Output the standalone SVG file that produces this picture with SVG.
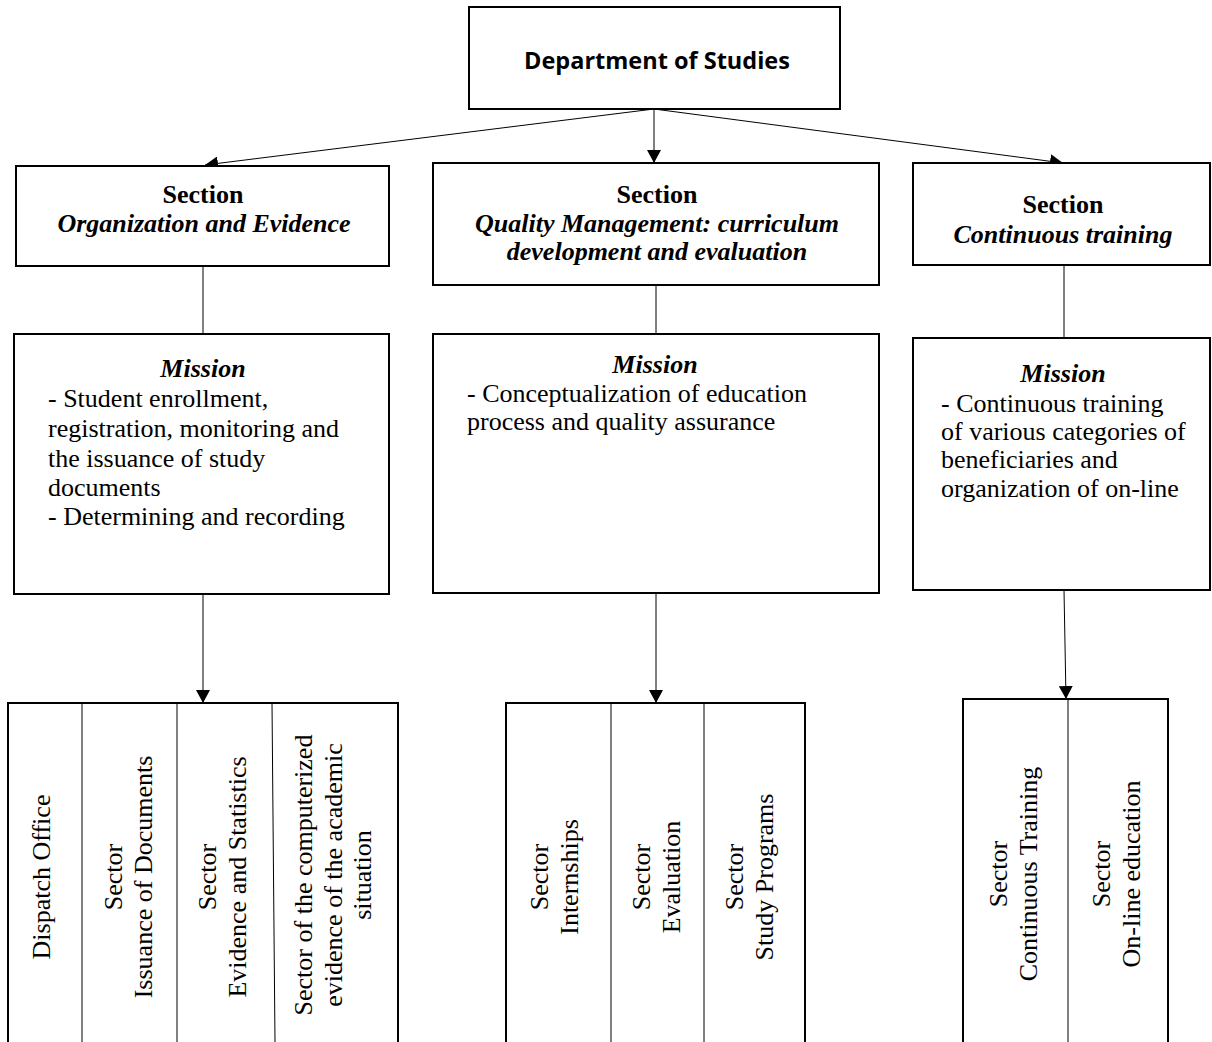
<svg xmlns="http://www.w3.org/2000/svg" width="1212" height="1042" viewBox="0 0 1212 1042">
<defs>
<marker id="ah" viewBox="0 0 13 14" refX="13" refY="7" markerWidth="13" markerHeight="14" markerUnits="userSpaceOnUse" orient="auto">
<path d="M0,0 L13,7 L0,14 Z" fill="#000"/>
</marker>
<style>
.box{fill:#fff;stroke:#000;stroke-width:2}
.div{stroke:#000;stroke-width:1;fill:none}
.con{stroke:#000;stroke-width:1;fill:none}
.arr{stroke:#000;stroke-width:1;fill:none;marker-end:url(#ah)}
.t{font-family:"Liberation Serif","Times New Roman",serif;font-size:26px;fill:#000}
.b{font-weight:bold}
.bi{font-weight:bold;font-style:italic}
.c{text-anchor:middle}
.head{font-family:"Open Sans","Liberation Sans",sans-serif;font-size:23.5px;font-weight:bold;fill:#000;text-anchor:middle}
</style>
</defs>
<rect width="1212" height="1042" fill="#fff"/>

<g id="connectors">
<line class="arr" x1="654" y1="109" x2="205" y2="165"/>
<line class="arr" x1="654" y1="109" x2="654" y2="163"/>
<line class="arr" x1="654" y1="109" x2="1063" y2="163"/>
<line class="con" x1="203" y1="266" x2="203" y2="334"/>
<line class="con" x1="656" y1="285" x2="656" y2="334"/>
<line class="con" x1="1064" y1="265" x2="1064" y2="338"/>
<line class="arr" x1="203" y1="594" x2="203" y2="703"/>
<line class="arr" x1="656" y1="593" x2="656" y2="703"/>
<line class="arr" x1="1064" y1="590" x2="1066" y2="699"/>
</g>

<g id="department">
<rect class="box" x="469" y="7" width="371" height="102"/>
<text class="head" x="657" y="69">Department of Studies</text>
</g>

<g id="section-organization">
<rect class="box" x="16" y="166" width="373" height="100"/>
<text class="t b c" x="203" y="203">Section</text>
<text class="t bi c" x="204" y="232">Organization and Evidence</text>
</g>

<g id="section-quality">
<rect class="box" x="433" y="163" width="446" height="122"/>
<text class="t b c" x="657" y="203">Section</text>
<text class="t bi c" x="657" y="232">Quality Management: curriculum</text>
<text class="t bi c" x="657" y="260">development and evaluation</text>
</g>

<g id="section-continuous">
<rect class="box" x="913" y="163" width="297" height="102"/>
<text class="t b c" x="1063" y="213">Section</text>
<text class="t bi c" x="1063" y="243">Continuous training</text>
</g>

<g id="mission-organization">
<rect class="box" x="14" y="334" width="375" height="260"/>
<text class="t bi c" x="203" y="377">Mission</text>
<text class="t" x="48" y="407">- Student enrollment,</text>
<text class="t" x="48" y="437">registration, monitoring and</text>
<text class="t" x="48" y="467">the issuance of study</text>
<text class="t" x="48" y="496">documents</text>
<text class="t" x="48" y="525">- Determining and recording</text>
</g>

<g id="mission-quality">
<rect class="box" x="433" y="334" width="446" height="259"/>
<text class="t bi c" x="655" y="373">Mission</text>
<text class="t" x="467" y="402">- Conceptualization of education</text>
<text class="t" x="467" y="430">process and quality assurance</text>
</g>

<g id="mission-continuous">
<rect class="box" x="913" y="338" width="297" height="252"/>
<text class="t bi c" x="1063" y="382">Mission</text>
<text class="t" x="941" y="412">- Continuous training</text>
<text class="t" x="941" y="440">of various categories of</text>
<text class="t" x="941" y="468">beneficiaries and</text>
<text class="t" x="941" y="497">organization of on-line</text>
</g>

<g id="sectors-organization">
<rect class="box" x="8" y="703" width="390" height="350"/>
<line class="div" x1="82" y1="703" x2="82" y2="1042"/>
<line class="div" x1="177" y1="703" x2="177" y2="1042"/>
<line class="div" x1="272" y1="703" x2="275" y2="1042"/>
<text class="t c" transform="translate(50,877) rotate(-90)">Dispatch Office</text>
<text class="t c" transform="translate(122,877) rotate(-90)">Sector</text>
<text class="t c" transform="translate(152,877) rotate(-90)">Issuance of Documents</text>
<text class="t c" transform="translate(216,877) rotate(-90)">Sector</text>
<text class="t c" transform="translate(246,877) rotate(-90)">Evidence and Statistics</text>
<text class="t c" transform="translate(312,875) rotate(-90)">Sector of the computerized</text>
<text class="t c" transform="translate(342,875) rotate(-90)">evidence of the academic</text>
<text class="t c" transform="translate(371,875) rotate(-90)">situation</text>
</g>

<g id="sectors-quality">
<rect class="box" x="506" y="703" width="299" height="350"/>
<line class="div" x1="611" y1="703" x2="611" y2="1042"/>
<line class="div" x1="704" y1="703" x2="704" y2="1042"/>
<text class="t c" transform="translate(548,877) rotate(-90)">Sector</text>
<text class="t c" transform="translate(578,877) rotate(-90)">Internships</text>
<text class="t c" transform="translate(650,877) rotate(-90)">Sector</text>
<text class="t c" transform="translate(680,877) rotate(-90)">Evaluation</text>
<text class="t c" transform="translate(743,877) rotate(-90)">Sector</text>
<text class="t c" transform="translate(773,877) rotate(-90)">Study Programs</text>
</g>

<g id="sectors-continuous">
<rect class="box" x="963" y="699" width="205" height="354"/>
<line class="div" x1="1068" y1="699" x2="1068" y2="1042"/>
<text class="t c" transform="translate(1007,874) rotate(-90)">Sector</text>
<text class="t c" transform="translate(1037,874) rotate(-90)">Continuous Training</text>
<text class="t c" transform="translate(1110,874) rotate(-90)">Sector</text>
<text class="t c" transform="translate(1140,874) rotate(-90)">On-line education</text>
</g>
</svg>
